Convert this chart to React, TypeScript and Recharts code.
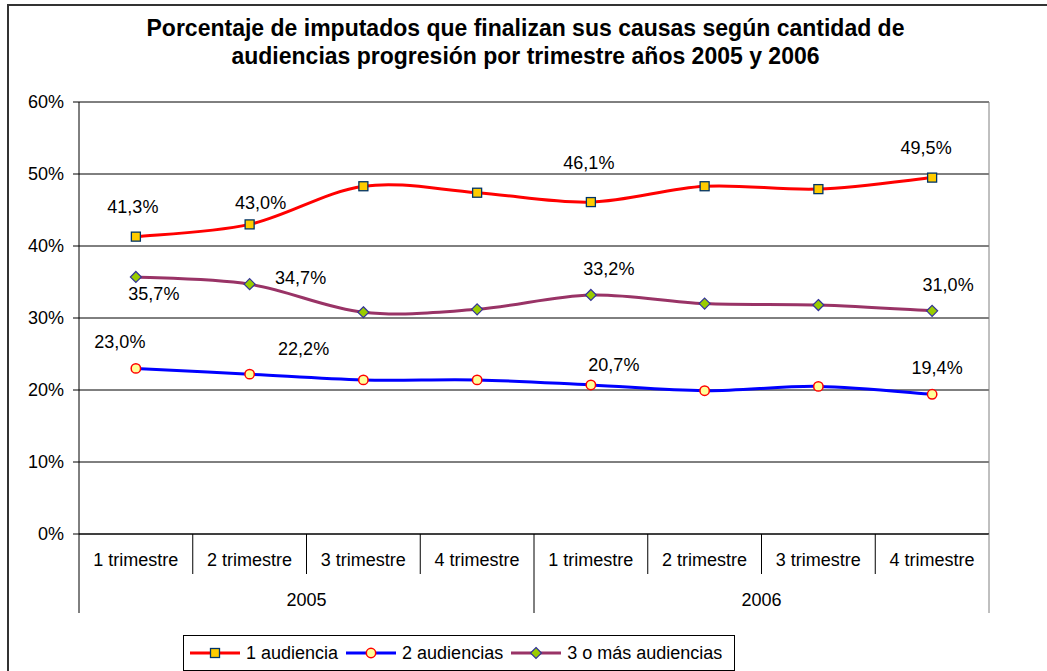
import React from 'react'
import { LineChart, Line, XAxis, YAxis, CartesianGrid, LabelList } from 'recharts'

const quarters = [
  '1 trimestre', '2 trimestre', '3 trimestre', '4 trimestre',
  '1 trimestre', '2 trimestre', '3 trimestre', '4 trimestre',
]
const years = ['2005', '2005', '2005', '2005', '2006', '2006', '2006', '2006']
const unaAudiencia = [41.3, 43.0, 48.3, 47.4, 46.1, 48.3, 47.9, 49.5]
const dosAudiencias = [23.0, 22.2, 21.4, 21.4, 20.7, 19.9, 20.5, 19.4]
const tresOMas = [35.7, 34.7, 30.8, 31.2, 33.2, 32.0, 31.8, 31.0]
const yTicks = [0, 10, 20, 30, 40, 50, 60]
const labelledPoints = [0, 1, 4, 7]

const data = quarters.map((q, i) => ({
  key: `${years[i]}-${i}`,
  quarter: q,
  year: years[i],
  una: unaAudiencia[i],
  dos: dosAudiencias[i],
  tres: tresOMas[i],
}))

// layout
const W = 1047
const H = 671
const PLOT_LEFT = 79
const PLOT_RIGHT = 989
const PLOT_TOP = 102
const PLOT_BOTTOM = 534
const Y_AXIS_W = 60
const X_AXIS_H = 80
const BAND = (PLOT_RIGHT - PLOT_LEFT) / quarters.length
const FONT = '"Liberation Sans", Arial, sans-serif'

// label offsets (dx, dy) from the point, per series
const labelOffsets: Record<string, Record<number, [number, number]>> = {
  una: { 0: [-3, -30], 1: [11, -21], 4: [-2, -39], 7: [-6, -30] },
  dos: { 0: [-16, -26], 1: [54, -25], 4: [23, -20], 7: [5, -26] },
  tres: { 0: [18, 17], 1: [51, -6], 4: [18, -26], 7: [16, -26] },
}

const fmt = (v: number) => v.toFixed(1).replace('.', ',') + '%'

// Excel style smoothed line (bezier through points)
function excelSmooth(context: any) {
  let pts: number[][] = []
  return {
    areaStart() {},
    areaEnd() {},
    lineStart() {
      pts = []
    },
    point(x: number, y: number) {
      pts.push([+x, +y])
    },
    lineEnd() {
      if (!pts.length) return
      context.moveTo(pts[0][0], pts[0][1])
      for (let i = 0; i < pts.length - 1; i++) {
        const p0 = pts[i - 1] || pts[i]
        const p1 = pts[i]
        const p2 = pts[i + 1]
        const p3 = pts[i + 2] || p2
        context.bezierCurveTo(
          p1[0] + (p2[0] - p0[0]) / 6,
          p1[1] + (p2[1] - p0[1]) / 6,
          p2[0] - (p3[0] - p1[0]) / 6,
          p2[1] - (p3[1] - p1[1]) / 6,
          p2[0],
          p2[1]
        )
      }
    },
  }
}

const Square = ({ cx, cy }: any) => (
  <rect x={cx - 4.5} y={cy - 4.5} width={9} height={9} fill="#FFCC00" stroke="#003366" strokeWidth={1.3} />
)
const Circle = ({ cx, cy }: any) => (
  <circle cx={cx} cy={cy} r={4.7} fill="#FFFF99" stroke="#FF0000" strokeWidth={1.5} />
)
const Diamond = ({ cx, cy }: any) => (
  <path d={`M${cx},${cy - 5.5}L${cx + 5.5},${cy}L${cx},${cy + 5.5}L${cx - 5.5},${cy}Z`} fill="#99CC00" stroke="#333399" strokeWidth={1.2} />
)

const series = [
  { key: 'una', name: '1 audiencia', color: '#FF0000', Marker: Square },
  { key: 'dos', name: '2 audiencias', color: '#0000FF', Marker: Circle },
  { key: 'tres', name: '3 o más audiencias', color: '#993366', Marker: Diamond },
]

const makeLabel = (key: string) => (props: any) => {
  const { x, y, index, value } = props
  if (!labelledPoints.includes(index)) return null
  const [dx, dy] = labelOffsets[key][index] || [0, -25]
  return (
    <text x={x + dx} y={y + dy} textAnchor="middle" dominantBaseline="central" fontSize={18} fill="#000">
      {fmt(value)}
    </text>
  )
}

function QuarterTick(props: any) {
  const { x, payload } = props
  const i = payload.index
  const left = x - BAND / 2
  const startsYear = i === 0 || years[i] !== years[i - 1]
  const isLast = i === quarters.length - 1
  const count = years.filter((y) => y === years[i]).length
  return (
    <g>
      <text x={x} y={PLOT_BOTTOM + 26} textAnchor="middle" dominantBaseline="central" fontSize={18} fill="#000">
        {quarters[i]}
      </text>
      <line x1={left} x2={left} y1={PLOT_BOTTOM} y2={PLOT_BOTTOM + (startsYear ? 79 : 40)} stroke="#000" />
      {isLast && <line x1={x + BAND / 2} x2={x + BAND / 2} y1={PLOT_BOTTOM} y2={PLOT_BOTTOM + 79} stroke="#808080" />}
      {startsYear && (
        <text x={left + (count * BAND) / 2} y={PLOT_BOTTOM + 66} textAnchor="middle" dominantBaseline="central" fontSize={18} fill="#000">
          {years[i]}
        </text>
      )}
    </g>
  )
}

export default function App() {
  return (
    <div style={{ position: 'absolute', left: 0, top: 0, width: W, height: H, overflow: 'hidden', background: '#fff', fontFamily: FONT }}>
      <div style={{ position: 'absolute', left: 7, top: 4, width: W + 50, height: H + 50, border: '2px solid #333' }} />
      <div style={{ position: 'absolute', left: 2, width: W, top: 14, textAlign: 'center', fontWeight: 'bold', fontSize: 23, lineHeight: '28px' }}>
        Porcentaje de imputados que finalizan sus causas según cantidad de
        <br />
        audiencias progresión por trimestre años 2005 y 2006
      </div>
      <div style={{ position: 'absolute', left: 0, top: 0 }}>
        <LineChart
          width={W}
          height={H}
          data={data}
          margin={{ top: PLOT_TOP, right: W - PLOT_RIGHT, bottom: H - PLOT_BOTTOM - X_AXIS_H, left: PLOT_LEFT - Y_AXIS_W }}
        >
          <CartesianGrid vertical={false} stroke="#000" />
          <CartesianGrid
            horizontal={false}
            stroke="#808080"
            verticalCoordinatesGenerator={({ offset }: any) => [offset.left + offset.width]}
          />
          <XAxis
            dataKey="key"
            interval={0}
            tickLine={false}
            axisLine={{ stroke: '#000' }}
            height={X_AXIS_H}
            padding={{ left: BAND / 2, right: BAND / 2 }}
            tick={<QuarterTick />}
          />
          <YAxis
            width={Y_AXIS_W}
            domain={[0, 60]}
            ticks={yTicks}
            tickFormatter={(v) => `${v}%`}
            tick={{ fill: '#000', fontSize: 18 }}
            tickSize={6}
            tickMargin={9}
            tickLine={{ stroke: '#000' }}
            axisLine={{ stroke: '#000' }}
          />
          {series.map((s) => (
            <Line
              key={s.key}
              dataKey={s.key}
              name={s.name}
              type={excelSmooth as any}
              stroke={s.color}
              strokeWidth={3}
              dot={(p: any) => <s.Marker key={`${s.key}-${p.index}`} cx={p.cx} cy={p.cy} />}
              activeDot={false}
              isAnimationActive={false}
            >
              <LabelList dataKey={s.key} content={makeLabel(s.key)} />
            </Line>
          ))}
        </LineChart>
      </div>
      <div
        style={{
          position: 'absolute',
          left: 183,
          top: 635,
          width: 552,
          height: 36,
          boxSizing: 'border-box',
          border: '1px solid #000',
          display: 'flex',
          alignItems: 'center',
          paddingLeft: 6,
          fontSize: 18,
          background: '#fff',
        }}
      >
        {series.map((s) => (
          <div key={s.key} style={{ display: 'flex', alignItems: 'center', marginRight: 8 }}>
            <svg width={50} height={16}>
              <line x1={0} x2={50} y1={8} y2={8} stroke={s.color} strokeWidth={3} />
              <s.Marker cx={25} cy={8} />
            </svg>
            <span style={{ marginLeft: 6 }}>{s.name}</span>
          </div>
        ))}
      </div>
    </div>
  )
}
